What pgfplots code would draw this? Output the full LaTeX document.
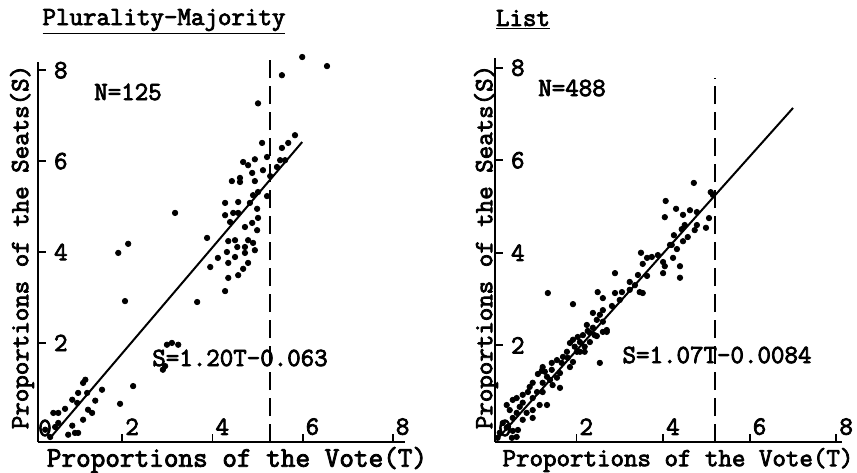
\documentclass[border=0pt]{standalone}
\usepackage{fontspec}
\newfontfamily\tw[FakeBold=3]{Latin Modern Mono}
\usepackage{pgfplots}
\pgfplotsset{compat=1.18}
\newcommand{\tf}{\tw\fontsize{13.1}{15}\selectfont}
\pgfplotsset{
  panel/.style={
    scale only axis,
    axis lines=left,
    axis line style={-, line width=1pt},
    tick align=inside,
    major tick length=4pt,
    tick style={line width=0.9pt, black},
    xtick={0.2,0.4,0.6,0.8},
    ytick={0.2,0.4,0.6,0.8},
    xticklabels={2,4,6,8},
    yticklabels={2,4,6,8},
    xticklabel style={anchor=south west, xshift=-2pt, font=\tf},
    yticklabel style={anchor=west, xshift=4.5pt, font=\tf},
    clip=false,
  },
  dots/.style={only marks, mark=*, mark size=1.35pt, black, mark options={fill=black}},
}
\begin{document}
\begin{tikzpicture}
\useasboundingbox (-19pt,-15pt) rectangle (409.5pt,221pt);
% ---------------- Left panel ----------------
\begin{axis}[panel, width=183.5pt, height=190pt,
  xmin=0.013, xmax=0.827, ymin=-0.018, ymax=0.818]
\addplot[dots] coordinates {
(0.599,0.829) (0.654,0.809) (0.554,0.789) (0.501,0.727) (0.583,0.657)
(0.568,0.640) (0.554,0.629) (0.510,0.640) (0.521,0.609) (0.494,0.604)
(0.468,0.598) (0.479,0.591) (0.550,0.602) (0.561,0.602) (0.488,0.574)
(0.512,0.580) (0.543,0.587) (0.443,0.556) (0.461,0.563) (0.461,0.554)
(0.494,0.556) (0.528,0.567) (0.490,0.525) (0.501,0.532) (0.521,0.523)
(0.457,0.510) (0.428,0.508) (0.483,0.508) (0.499,0.495) (0.428,0.481)
(0.446,0.486) (0.457,0.486) (0.439,0.466) (0.501,0.475) (0.472,0.455)
(0.488,0.464) (0.499,0.448) (0.317,0.486) (0.388,0.431) (0.435,0.424)
(0.450,0.426) (0.479,0.426) (0.490,0.420) (0.455,0.411) (0.472,0.411)
(0.494,0.404) (0.432,0.400) (0.472,0.398) (0.412,0.387) (0.450,0.389)
(0.435,0.376) (0.479,0.376) (0.395,0.367) (0.468,0.363) (0.457,0.349)
(0.435,0.343) (0.428,0.314) (0.366,0.290) (0.191,0.398) (0.213,0.418)
(0.206,0.292) (0.299,0.196) (0.324,0.196) (0.310,0.200) (0.290,0.141)
(0.295,0.149)
(0.224,0.105) (0.195,0.066) (0.155,0.097) (0.140,0.073) (0.118,0.119)
(0.113,0.112) (0.102,0.090) (0.122,0.090) (0.089,0.075) (0.100,0.068)
(0.124,0.053) (0.133,0.046) (0.073,0.055) (0.058,0.046) (0.047,0.046)
(0.113,0.031) (0.089,0.018) (0.058,0.024) (0.051,0.015) (0.080,-0.002)
(0.095,0.002) (0.102,0.002) (0.040,-0.007) (0.029,0.009)
};
\addplot[line width=1pt, no marks] coordinates {(0.040,-0.009) (0.599,0.642)};
\addplot[line width=1.2pt, no marks, dash pattern=on 9pt off 4pt] coordinates {(0.528,-0.018) (0.528,0.822)};
\end{axis}
% ---------------- Right panel ----------------
\begin{axis}[panel, at={(228.5pt,0pt)}, anchor=south west,
  width=173.5pt, height=192pt,
  xmin=0.012, xmax=0.813, ymin=-0.009, ymax=0.821]
\addplot[dots] coordinates {
(0.471,0.551) (0.515,0.525) (0.510,0.531) (0.406,0.512) (0.430,0.495)
(0.446,0.482) (0.462,0.492) (0.478,0.488) (0.404,0.477) (0.506,0.475)
(0.450,0.460) (0.478,0.460) (0.443,0.451) (0.473,0.449) (0.499,0.454)
(0.425,0.438) (0.457,0.434) (0.446,0.425) (0.420,0.417) (0.432,0.408)
(0.388,0.395) (0.374,0.391) (0.363,0.389) (0.349,0.400) (0.400,0.380)
(0.423,0.389) (0.353,0.376) (0.404,0.371) (0.439,0.371) (0.400,0.356)
(0.363,0.350) (0.439,0.346) (0.353,0.313) (0.416,0.417)
(0.289,0.356) (0.323,0.337) (0.342,0.352) (0.335,0.330) (0.305,0.315)
(0.346,0.315) (0.323,0.320) (0.249,0.315) (0.261,0.302) (0.289,0.313)
(0.300,0.298) (0.282,0.285) (0.261,0.276) (0.238,0.270) (0.254,0.266)
(0.247,0.255) (0.261,0.251) (0.270,0.233) (0.224,0.244) (0.238,0.238)
(0.226,0.231) (0.270,0.229) (0.134,0.313) (0.192,0.289) (0.254,0.162)
(0.242,0.222) (0.215,0.222) (0.203,0.218) (0.231,0.227) (0.192,0.212)
(0.208,0.207) (0.219,0.197) (0.196,0.197) (0.185,0.205) (0.208,0.186)
(0.178,0.186) (0.169,0.175) (0.180,0.173) (0.201,0.186)
(0.162,0.108) (0.185,0.153) (0.192,0.164) (0.166,0.162) (0.162,0.140)
(0.143,0.162) (0.143,0.147) (0.155,0.130) (0.122,0.153) (0.120,0.145)
(0.111,0.138) (0.132,0.132) (0.139,0.125) (0.122,0.119) (0.145,0.114)
(0.099,0.119) (0.092,0.110) (0.088,0.099) (0.109,0.099) (0.122,0.099)
(0.099,0.086) (0.132,0.071) (0.115,0.071) (0.076,0.093) (0.062,0.086)
(0.053,0.082) (0.039,0.071) (0.076,0.076) (0.069,0.067) (0.099,0.060)
(0.085,0.054) (0.099,0.043) (0.062,0.054) (0.046,0.060) (0.053,0.043)
(0.076,0.039) (0.042,0.024) (0.030,0.032) (0.065,0.017) (0.062,0.002)
(0.051,0.000) (0.039,0.022) (0.053,0.015) (0.023,0.011) (0.018,0.000)
(0.127,0.143) (0.155,0.168) (0.261,0.229) (0.247,0.220) (0.231,0.207)
(0.219,0.186)
};
\addplot[line width=1pt, no marks] coordinates {(0.016,-0.004) (0.700,0.713)};
\addplot[line width=1.2pt, no marks, dash pattern=on 9pt off 4pt] coordinates {(0.520,-0.009) (0.520,0.778)};
\end{axis}
% ---------------- Texts ----------------
\node[font=\tf] at (63pt,210pt) {\underline{Plurality-Majority}};
\node[font=\tf] at (242.5pt,211pt) {\underline{List}};
\node[font=\tf] at (45pt,175pt) {N=125};
\node[font=\tf] at (267pt,177pt) {N=488};
\node[font=\tf] at (101pt,42pt) {S=1.20T-0.063};
\node[font=\tf] at (339.5pt,43.5pt) {S=1.07T-0.0084};
\node[font=\tf] at (3.5pt,7pt) {0};
\node[font=\tf] at (233.5pt,7pt) {0};
\node[font=\tw\fontsize{14.2}{16}\selectfont] at (99.5pt,-9pt) {Proportions of the Vote(T)};
\node[font=\tf] at (320pt,-9pt) {Proportions of the Vote(T)};
\node[font=\tf, rotate=90] at (-8pt,97.5pt) {Proportions of the Seats(S)};
\node[font=\tf, rotate=90] at (224pt,97.5pt) {Proportions of the Seats(S)};
\end{tikzpicture}
\end{document}
